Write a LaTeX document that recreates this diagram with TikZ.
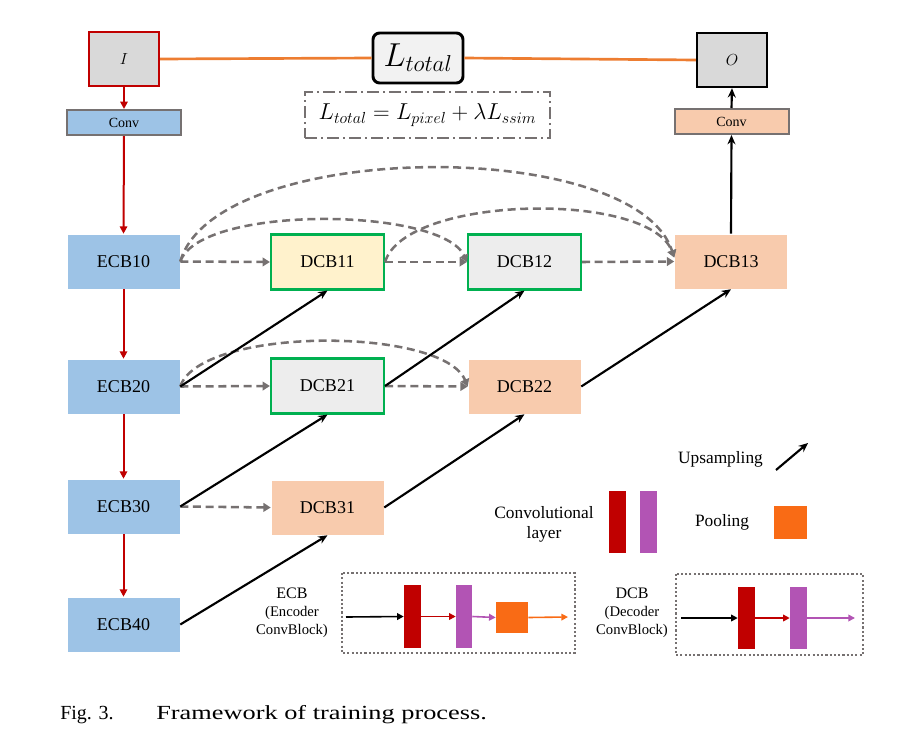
\documentclass[tikz,border=0pt]{standalone}
\usepackage{fontspec}
\setmainfont{Liberation Serif}
\usetikzlibrary{arrows.meta}
\definecolor{cblue}{HTML}{9DC3E6}
\definecolor{cpeach}{HTML}{F8CBAD}
\definecolor{cyel}{HTML}{FFF2CC}
\definecolor{clgray}{HTML}{EDEDED}
\definecolor{cbox}{HTML}{D9D9D9}
\definecolor{cred}{HTML}{C00000}
\definecolor{cgreen}{HTML}{00B050}
\definecolor{corl}{HTML}{ED7D31}
\definecolor{cgray}{HTML}{767171}
\definecolor{cpurp}{HTML}{B254B4}
\definecolor{corg}{HTML}{F96B15}
\definecolor{cltot}{HTML}{F2F2F2}
\begin{document}
\begin{tikzpicture}[x=0.75pt,y=-0.75pt,
  blk/.style={minimum width=84.75pt, minimum height=41.25pt, inner sep=0pt, font=\fontsize{13.5}{15}\selectfont},
  ecb/.style={blk, fill=cblue, draw=white, line width=0.4pt},
  dcbp/.style={blk, fill=cpeach, draw=white, line width=0.4pt},
  dcbg/.style={blk, draw=cgreen, line width=1.6pt},
  convbox/.style={minimum width=85.5pt, minimum height=18.75pt, inner sep=0pt, draw=cgray, line width=1.5pt, font=\fontsize{10.5}{12}\selectfont},
  iobox/.style={minimum width=52.5pt, minimum height=40.5pt, inner sep=0pt, fill=cbox, line width=1.8pt, font=\fontsize{13}{15}\selectfont},
  redarr/.style={draw=cred, line width=1.5pt, -{Triangle[length=5.5pt,width=5.5pt]}},
  dasharr/.style={draw=cgray, line width=1.9pt, dash pattern=on 6pt off 3.5pt, -{Triangle[length=5.5pt,width=6.5pt]}},
  uparr/.style={line width=1.6pt, -{Stealth[length=7pt,width=6pt]}},
  orl/.style={draw=corl, line width=2pt},
  legtxt/.style={font=\fontsize{13}{15}\selectfont, inner sep=0pt},
  smtxt/.style={font=\fontsize{11}{13.5}\selectfont, inner sep=0pt, align=center},
  cbar/.style={inner sep=0pt, minimum width=12.75pt, minimum height=46.5pt},
  dotbox/.style={draw=cgray, line width=1.6pt, dash pattern=on 1.6pt off 1.6pt}
]
\useasboundingbox (0,0) rectangle (911,750);

% top row
\node[iobox, draw=cred] (I) at (124,59) {$I$};
\node[iobox, draw=black] (O) at (732,60) {$O$};
\node[draw=black, fill=cltot, line width=2.2pt, rounded corners=5pt, minimum width=67.5pt, minimum height=37.5pt, inner sep=0pt, font=\fontsize{24}{28}\selectfont] (Lt) at (418,58) {$L_{total}$};
\node[draw=cgray, line width=1.5pt, dash pattern=on 9pt off 3pt on 1.5pt off 3pt, minimum width=183.75pt, minimum height=34.5pt, inner sep=0pt, font=\fontsize{18}{22}\selectfont] (Eq) at (427.5,115) {$L_{total}=L_{pixel}+\lambda L_{ssim}$};
\draw[orl] (I.east) -- (Lt.west);
\draw[orl] (Lt.east) -- (O.west);

\node[convbox, fill=cblue] (ConvL) at (124,122.5) {Conv};
\node[convbox, fill=cpeach] (ConvR) at (731.5,121.5) {Conv};

% blocks
\node[ecb] (E1) at (123.5,261.5) {ECB10};
\node[ecb] (E2) at (123.5,386.5) {ECB20};
\node[ecb] (E3) at (123.5,506.5) {ECB30};
\node[ecb] (E4) at (123.5,624.5) {ECB40};
\node[dcbg, fill=cyel] (D11) at (327.5,262) {DCB11};
\node[dcbg, fill=clgray] (D12) at (524.5,262) {DCB12};
\node[dcbp] (D13) at (731,261.5) {DCB13};
\node[dcbg, fill=clgray] (D21) at (327.5,386) {DCB21};
\node[dcbp] (D22) at (524.5,386.5) {DCB22};
\node[dcbp] (D31) at (327.5,507.5) {DCB31};

% red encoder path
\draw[redarr] (I.south) -- (ConvL.north);
\draw[redarr] (ConvL.south) -- (E1.north);
\draw[redarr] (E1.south) -- (E2.north);
\draw[redarr] (E2.south) -- (E3.north);
\draw[redarr] (E3.south) -- (E4.north);

% output path
\draw[uparr] (ConvR.north) -- (O.south);
\draw[uparr] (D13.north) -- (ConvR.south);

% dashed skip connections
\draw[dasharr] (E1.east) -- (D11.west);
\draw[dasharr] (D11.east) -- (D12.west);
\draw[dasharr] (D12.east) -- (D13.west);
\draw[dasharr] (E1.east) .. controls +(20,-57) and +(-25,-55) .. (D12.west);
\draw[dasharr] (E1.east) .. controls +(35,-122) and +(-40,-122) .. ([yshift=3pt]D13.west);
\draw[dasharr] (D11.east) .. controls +(20,-67) and +(-25,-67) .. ([yshift=3pt]D13.west);
\draw[dasharr] (E2.east) -- (D21.west);
\draw[dasharr] (D21.east) -- (D22.west);
\draw[dasharr] (E2.east) .. controls +(20,-60) and +(-25,-60) .. (D22.west);
\draw[dasharr] (E3.east) -- (D31.west);

% upsampling
\draw[uparr] (E2.east) -- (D11.south);
\draw[uparr] (D21.east) -- (D12.south);
\draw[uparr] (D22.east) -- (D13.south);
\draw[uparr] (E3.east) -- (D21.south);
\draw[uparr] (D31.east) -- (D22.south);
\draw[uparr] (E4.east) -- (D31.south);

% legend
\node[legtxt] (tUp) at (720.5,459) {Upsampling};
\coordinate (u1) at (776,470);
\coordinate (u2) at (808,443);
\draw[uparr] (u1) -- (u2);
\node[legtxt, align=center, font=\fontsize{13}{15}\selectfont] (tConv) at (544,524) {Convolutional\\layer};
\node[cbar, fill=cred] (lr) at (617.5,522) {};
\node[cbar, fill=cpurp] (lp) at (648.5,522) {};
\node[legtxt] (tPool) at (722,522) {Pooling};
\node[inner sep=0pt, minimum size=24.75pt, fill=corg] (lo) at (790.5,522.5) {};

% ECB detail
\node[smtxt] (tECB) at (292,613) {{\fontsize{12}{13.5}\selectfont ECB}\\(Encoder\\ConvBlock)};
\draw[dotbox] (342,573) rectangle (575,653);
\coordinate (ea) at (346,617);
\node[inner sep=0pt, minimum width=12.75pt, minimum height=47pt, fill=cred] (er) at (412.5,616.5) {};
\node[inner sep=0pt, minimum width=12pt, minimum height=47pt, fill=cpurp] (ep) at (464,616.5) {};
\node[inner sep=0pt, minimum width=24pt, minimum height=23.25pt, fill=corg] (eo) at (512,617.5) {};
\coordinate (eb) at (568,617);
\draw[line width=1.2pt, -{Triangle[length=5pt,width=5pt]}] (ea) -- (er.west);
\draw[draw=cred, line width=1.2pt, -{Triangle[length=5pt,width=5pt]}] (er.east) -- (ep.west);
\draw[draw=cpurp, line width=1.2pt, -{Triangle[length=5pt,width=5pt]}] (ep.east) -- (eo.west);
\draw[draw=corg, line width=1.2pt, -{Triangle[length=5pt,width=5pt]}] (eo.east) -- (eb);

% DCB detail
\node[smtxt] (tDCB) at (632,613) {{\fontsize{12}{13.5}\selectfont DCB}\\(Decoder\\ConvBlock)};
\draw[dotbox] (676,574) rectangle (863,655);
\coordinate (da) at (681,618);
\node[inner sep=0pt, minimum width=12.75pt, minimum height=46.5pt, fill=cred] (dr) at (746.5,618) {};
\node[inner sep=0pt, minimum width=12.75pt, minimum height=46.5pt, fill=cpurp] (dp) at (798.5,618) {};
\coordinate (db) at (855,618);
\draw[line width=1.2pt, -{Triangle[length=5pt,width=5pt]}] (da) -- (dr.west);
\draw[draw=cred, line width=1.2pt, -{Triangle[length=5pt,width=5pt]}] (dr.east) -- (dp.west);
\draw[draw=cpurp, line width=1.2pt, -{Triangle[length=5pt,width=5pt]}] (dp.east) -- (db);

% caption
\node[anchor=west, inner sep=0pt, font=\fontsize{15}{18}\selectfont] (cap1) at (60,715) {Fig. 3.};
\node[anchor=west, inner sep=0pt, font=\fontsize{15}{18}\selectfont] (cap2) at (156,715) {\resizebox{248pt}{\height}{Framework of training process.}};
\end{tikzpicture}
\end{document}
